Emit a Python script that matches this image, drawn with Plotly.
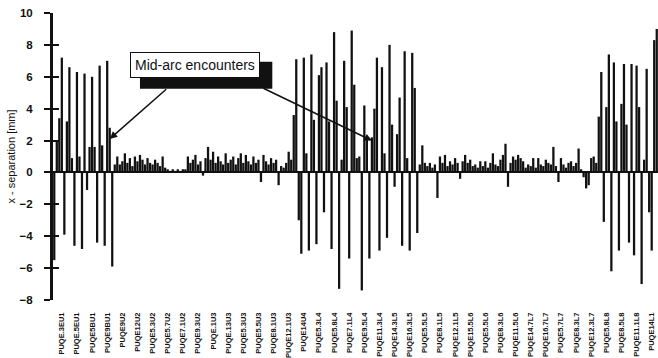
import plotly.graph_objects as go

# x-separation per bunch slot, in mm, grouped by machine section
arc_a = [-5.5, 2.0, 3.4, 7.2, -3.9, 3.2, 6.6, 0.9, -4.6, 6.3, 1.0, -4.8, 6.2,
         -1.1, 1.6, 6.0, 1.6, -4.4, 6.7, 1.7, -4.6, 7.0, 2.8, -5.9, 0.5]
straight_a = [1.0, 0.5, 0.7, 1.2, 0.6, 0.9, 0.4, 1.0, 0.7, 1.1, 0.8, 0.5, 0.9,
              0.6, 0.5, 0.8, 0.6, 0.4, 1.0, 0.3, 0.2, 0.1, 0.2, 0.1, 0.2, 0.1,
              0.2, 0.2, 1.0, 0.6, 0.8, 1.1, 0.5, 0.7, -0.2, 0.9, 1.6, 0.8, 1.3,
              0.6, 1.0, 0.7, 0.5, 1.2, 0.6, 0.8, 1.0, 0.5, 0.9, 1.2, 0.6, 1.1,
              0.7, 0.5, 1.0, 0.6, 0.8, -0.6, 1.1, 0.7, 0.5, 0.9, 0.6, 0.8, -0.8,
              0.4]
arc_b = [0.3, 0.6, 1.3, 0.8, 3.6, 7.1, -3.0, -5.1, 7.2, 1.2, -4.9, 7.4, 3.3,
         -4.5, 6.1, 6.6, -2.5, 6.9, 3.2, -4.8, 8.8, 4.5, -7.3, 0.8, 7.0, 4.1,
         -5.4, 8.9, 5.5, 0.9, 1.0, -7.4, 4.2, 2.2, -5.4, 2.2, 4.0, 7.2, -4.9,
         6.6, 1.2, -4.1, 8.0, 3.0, -0.9, 2.4, 4.7, -4.6, 7.6, 0.9, -4.9, 7.5,
         5.3, -3.8, 0.5, 1.7, 0.6]
straight_b = [0.4, 0.6, 0.3, 0.5, -1.6, 1.0, 0.6, 1.1, 0.4, 0.7, 0.5, 0.9, 0.6,
              -0.4, 0.7, 1.1, 0.6, 0.8, 0.4, 0.5, 0.3, 0.7, 0.4, 0.7, 0.3, 0.6,
              1.2, 0.5, 0.4, 0.8, 1.1, 1.8, -0.9, 0.6, 1.0, 0.8, 1.1, 0.9, 0.7,
              0.3, 0.5, 0.4, 0.9, 0.3, 0.9, 0.5, 0.4, 0.8, 0.6, 0.5, 1.6, 0.4,
              -0.6, 0.9, 0.5, 0.3, 0.6, 0.7, 0.4, 0.6, 1.5, 0.2, -0.3, -1.0]
arc_c = [-0.8, 0.9, 1.0, 0.6, 3.5, 6.3, -3.1, 4.1, 7.4, -6.2, 6.9, 3.2, -4.9,
         4.3, 6.8, 3.0, -4.4, 6.8, -5.2, 6.7, 4.1, -7.0, 0.8, 6.5, -2.5, -4.9,
         8.3, 9.0]

separation = arc_a + straight_a + arc_b + straight_b + arc_c
slots = list(range(len(separation)))

# one pick-up label for every sixth slot
pickups = ["PUQE.3EU1", "PUQE.5EU1", "PUQE5BU1", "PUQE9BU1", "PUQE9U2",
           "PUQE12U2", "PUQE5.3U2", "PUQE5.7U2", "PUQE7.1U2", "PUQE9.3U2",
           "PUQE.1U3", "PUQE.13U3", "PUQE5.3U3", "PUQE5.5U3", "PUQE8.1U3",
           "PUQE12.1U3", "PUQE14U4", "PUQE5.3L4", "PUQE5.8L4", "PUQE7.1L4",
           "PUQE9.5L4", "PUQE11.3L4", "PUQE14.3L5", "PUQE16.3L5", "PUQE5.5L5",
           "PUQE8.1L5", "PUQE12.1L5", "PUQE15.5L6", "PUQE5.5L6", "PUQE8.3L6",
           "PUQE11.5L6", "PUQE14.7L7", "PUQE16.7L7", "PUQE5.7L7", "PUQE8.3L7",
           "PUQE12.3L7", "PUQE5.8L8", "PUQE8.5L8", "PUQE11.1L8", "PUQE14L1"]
label_step = 6
label_pos = [3 + label_step * i for i in range(len(pickups))]

ink = "#111111"
yr = [-8, 10]

fig = go.Figure()
fig.add_trace(go.Bar(x=slots, y=separation, marker=dict(color=ink, line=dict(width=0)),
                     showlegend=False, hoverinfo="skip"))
# empty trace so the inner-tick axis is drawn
fig.add_trace(go.Scatter(x=[], y=[], yaxis="y2", showlegend=False))

fig.update_layout(
    width=658, height=358,
    margin=dict(l=53, r=0, t=13, b=56),
    paper_bgcolor="white", plot_bgcolor="white",
    bargap=0.1,
    font=dict(family="Liberation Sans, Arial, sans-serif", color=ink),
    xaxis=dict(range=[-0.5, len(separation) - 0.5], showgrid=False, zeroline=False,
               showline=False, ticks="", tickmode="array", tickvals=label_pos,
               ticktext=pickups, tickangle=-90, ticklabelstandoff=10,
               tickfont=dict(family="Liberation Sans Narrow, Arial Narrow, Liberation Sans",
                             size=7.5, weight=700, color=ink)),
    yaxis=dict(range=yr, dtick=2, showgrid=False, zeroline=True, zerolinecolor=ink,
               zerolinewidth=2, showline=True, linecolor=ink, linewidth=3,
               ticks="outside", ticklen=6, tickwidth=2, tickcolor=ink,
               ticklabelstandoff=9,
               tickfont=dict(family="Liberation Sans", size=11.5, weight=700, color=ink),
               title=dict(text="x - separation [mm]", font=dict(size=11, color=ink),
                          standoff=2)),
    yaxis2=dict(range=yr, dtick=2, overlaying="y", side="left", showgrid=False,
                zeroline=False, showline=False, ticks="inside", ticklen=6,
                tickwidth=2, tickcolor=ink, showticklabels=False),
)

# drop shadow behind the callout box
fig.add_shape(type="rect", xref="x", yref="y", x0=34, x1=86.5, y0=5.25, y1=6.95,
              fillcolor=ink, line=dict(width=0), layer="above")

fig.add_annotation(x=55.8, y=6.75, xref="x", yref="y", text="Mid-arc encounters",
                   showarrow=False, font=dict(size=14, color=ink),
                   bgcolor="white", bordercolor=ink, borderwidth=1, borderpad=4)

# arrows from the callout to the encounter bunches
fig.add_annotation(x=22, y=2.1, xref="x", yref="y", ax=58, ay=-51, text="",
                   showarrow=True, arrowhead=2, arrowsize=1, arrowwidth=1.5,
                   arrowcolor=ink)
fig.add_annotation(x=126, y=2.0, xref="x", yref="y", ax=-110, ay=-53, text="",
                   showarrow=True, arrowhead=2, arrowsize=1, arrowwidth=1.5,
                   arrowcolor=ink)

fig.write_html("out.html")
